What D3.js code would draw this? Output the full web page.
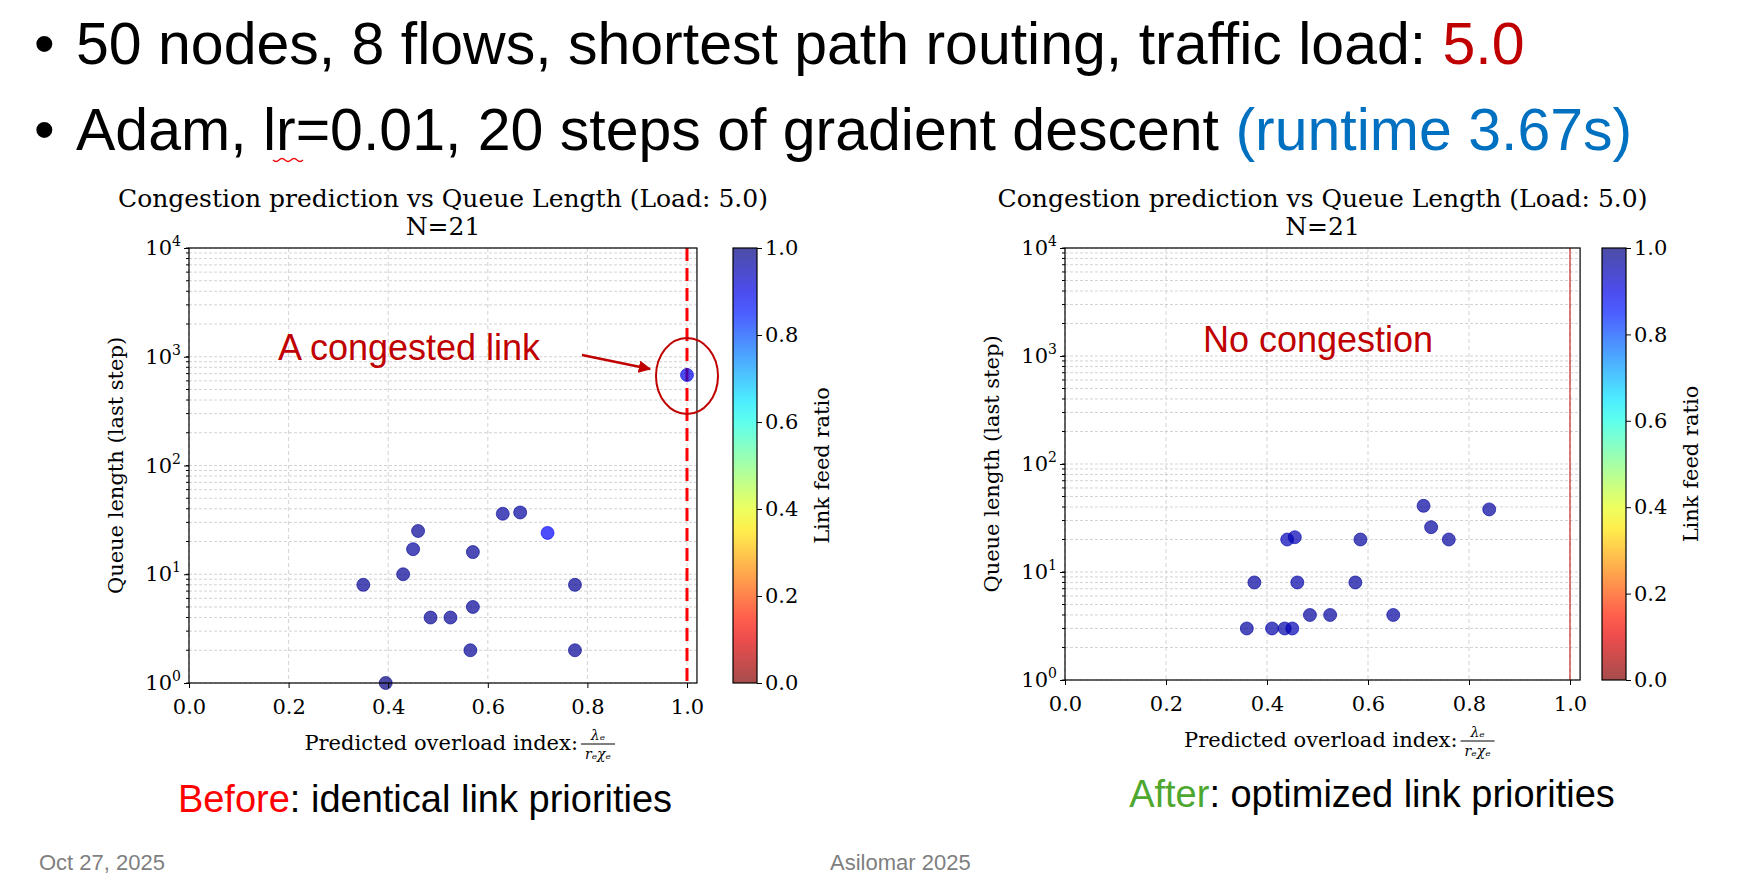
<!DOCTYPE html><html><head><meta charset="utf-8"><script src="https://cdn.jsdelivr.net/npm/d3@7"></script>
<style>body{margin:0;background:#fff}</style></head><body><svg id="s" width="1738" height="886"></svg>
<script>
const leftX=[0.35,0.395,0.43,0.45,0.46,0.485,0.525,0.565,0.57,0.57,0.63,0.665,0.72,0.775,0.775,1.0];
const leftY=[8,1,10,17,25,4,4,2,5,16,36,37,24,8,2,680];
const leftC=[0.98,1.0,0.98,0.97,0.98,0.98,0.98,0.98,0.98,0.98,0.97,0.97,0.88,0.98,0.98,0.9];
const rightX=[0.36,0.375,0.41,0.435,0.44,0.455,0.45,0.46,0.485,0.525,0.575,0.585,0.65,0.71,0.725,0.76,0.84];
const rightY=[3,8,3,3,20,21,3,8,4,4,8,20,4,41,26,20,38];
const rightC=[0.97,0.97,0.96,0.96,0.95,0.95,0.95,0.96,0.97,0.97,0.97,0.97,0.97,0.97,0.97,0.97,0.97];
const xTicks=[0,0.2,0.4,0.6,0.8,1.0];
const cbTicks=[0,0.2,0.4,0.6,0.8,1.0];
const svg=d3.select("#s");
const serif="'DejaVu Serif',serif", sans="'Liberation Sans',Arial,sans-serif";
function jetR(v0){const v=1-v0;const r=Math.min(4*v-1.5,-4*v+4.5),g=Math.min(4*v-0.5,-4*v+3.5),b=Math.min(4*v+0.5,-4*v+2.5);
 const c=x=>Math.round(255*Math.max(0,Math.min(1,x)));return `rgb(${c(r)},${c(g)},${c(b)})`;}
const h=svg.append("g").attr("font-family",sans).attr("font-size",59);
[[64,"50 nodes, 8 flows, shortest path routing, traffic load: ",[["5.0","#c00000"]]],[150,"Adam, lr=0.01, 20 steps of gradient descent ",[["(runtime 3.67s)","#0070c0"]]]].forEach(([y,t,ex])=>{
 h.append("text").attr("x",34).attr("y",y).text("•");
 const tx=h.append("text").attr("x",76).attr("y",y);tx.append("tspan").text(t);ex.forEach(e=>tx.append("tspan").attr("fill",e[1]).text(e[0]));});
svg.append("path").attr("d","M273,160 q3,3 6,0 t6,0 t6,0 t6,0 t6,0").attr("fill","none").attr("stroke","#e00").attr("stroke-width",1.2);
const defs=svg.append("defs");const lg=defs.append("linearGradient").attr("id","jet").attr("x1",0).attr("x2",0).attr("y1",1).attr("y2",0);
d3.range(0,1.001,0.05).forEach(v=>lg.append("stop").attr("offset",v).attr("stop-color",jetR(v)).attr("stop-opacity",0.7));
function panel(o){
 const g=svg.append("g");
 const x=d3.scaleLinear().domain([0,1.02]).range([o.x0,o.x0+(o.x1-o.x0)*1.02]);
 const y=d3.scaleLog().domain([1,1e4]).range([o.yb,o.yt]);
 const R=x(1.02);
 const minors=[];for(let e=0;e<4;e++)for(let k=1;k<10;k++)minors.push(k*10**e);minors.push(1e4);
 g.selectAll(".hg").data(minors).join("line").attr("x1",o.x0).attr("x2",R).attr("y1",d=>y(d)).attr("y2",d=>y(d)).attr("stroke","#c8c8c8").attr("stroke-dasharray","3,2").attr("stroke-width",0.8);
 g.selectAll(".vg").data(xTicks).join("line").attr("x1",d=>x(d)).attr("x2",d=>x(d)).attr("y1",o.yt).attr("y2",o.yb).attr("stroke","#c8c8c8").attr("stroke-dasharray","4,3").attr("stroke-width",0.8);
 if(o.redline) g.append("line").attr("x1",x(1)).attr("x2",x(1)).attr("y1",o.yt).attr("y2",o.yb).attr("stroke","#f00").attr("stroke-width",3).attr("stroke-dasharray","13,7");
 else g.append("line").attr("x1",x(1)).attr("x2",x(1)).attr("y1",o.yt).attr("y2",o.yb).attr("stroke","#b00").attr("stroke-width",1);
 g.selectAll("circle").data(o.X.map((v,i)=>[v,o.Y[i],o.C[i]])).join("circle").attr("cx",d=>x(d[0])).attr("cy",d=>y(d[1])).attr("r",6.5).attr("fill",d=>jetR(d[2])).attr("fill-opacity",0.7).attr("stroke",d=>jetR(d[2])).attr("stroke-width",0.6);
 g.append("rect").attr("x",o.x0).attr("y",o.yt).attr("width",R-o.x0).attr("height",o.yb-o.yt).attr("fill","none").attr("stroke","#000").attr("stroke-width",1.2);
 const xa=g.append("g").attr("transform",`translate(0,${o.yb})`).call(d3.axisBottom(x).tickValues(xTicks).tickFormat(d3.format(".1f")).tickSize(5));
 xa.select(".domain").remove();xa.selectAll("text").attr("font-family",serif).attr("font-size",21).attr("fill","#000").attr("dy","1.1em");
 const ya=g.append("g").attr("transform",`translate(${o.x0},0)`).call(d3.axisLeft(y).tickValues([1,10,100,1000,10000]).tickFormat("").tickSize(5));
 ya.select(".domain").remove();
 g.append("g").selectAll("line").data(minors).join("line").attr("x1",o.x0-3).attr("x2",o.x0).attr("y1",d=>y(d)).attr("y2",d=>y(d)).attr("stroke","#000");
 [0,1,2,3,4].forEach(e=>{const t=g.append("text").attr("x",o.x0-8).attr("y",y(10**e)+7).attr("text-anchor","end").attr("font-family",serif).attr("font-size",21);
  t.append("tspan").text("10");t.append("tspan").attr("dy",-9).attr("font-size",14).text(e);});
 const cx=(o.x0+R)/2;
 g.append("text").attr("x",cx).attr("y",207).attr("text-anchor","middle").attr("font-family",serif).attr("font-size",25).text("Congestion prediction vs Queue Length (Load: 5.0)");
 g.append("text").attr("x",cx).attr("y",235).attr("text-anchor","middle").attr("font-family",serif).attr("font-size",25).text("N=21");
 const fx=cx+155;
 g.append("text").attr("x",fx-20).attr("y",o.yb+67).attr("text-anchor","end").attr("font-family",serif).attr("font-size",21).text("Predicted overload index:");
 g.append("text").attr("x",fx).attr("y",o.yb+57).attr("text-anchor","middle").attr("font-family",serif).attr("font-style","italic").attr("font-size",14).text("λₑ");
 g.append("line").attr("x1",fx-17).attr("x2",fx+17).attr("y1",o.yb+61).attr("y2",o.yb+61).attr("stroke","#000");
 g.append("text").attr("x",fx).attr("y",o.yb+76).attr("text-anchor","middle").attr("font-family",serif).attr("font-style","italic").attr("font-size",14).text("rₑχₑ");
 g.append("text").attr("transform",`translate(${o.x0-66},${(o.yt+o.yb)/2}) rotate(-90)`).attr("text-anchor","middle").attr("font-family",serif).attr("font-size",21).text("Queue length (last step)");
 const cs=d3.scaleLinear().domain([0,1]).range([o.yb,o.yt]);
 g.append("rect").attr("x",o.cb).attr("y",o.yt).attr("width",24).attr("height",o.yb-o.yt).attr("fill","url(#jet)").attr("stroke","#000").attr("stroke-width",1.2);
 const ca=g.append("g").attr("transform",`translate(${o.cb+24},0)`).call(d3.axisRight(cs).tickValues(cbTicks).tickFormat(d3.format(".1f")).tickSize(5));
 ca.select(".domain").remove();ca.selectAll("text").attr("font-family",serif).attr("font-size",21).attr("fill","#000");
 g.append("text").attr("transform",`translate(${o.cb+96},${(o.yt+o.yb)/2}) rotate(-90)`).attr("text-anchor","middle").attr("font-family",serif).attr("font-size",21).text("Link feed ratio");
 return {x,y,g};
}
const L=panel({x0:189,x1:687,yt:248,yb:683,cb:733,X:leftX,Y:leftY,C:leftC,redline:true});
const Rr=panel({x0:1065,x1:1570,yt:248,yb:680,cb:1602,X:rightX,Y:rightY,C:rightC,redline:false});
svg.append("text").attr("x",409).attr("y",360).attr("text-anchor","middle").attr("font-family",sans).attr("font-size",36).attr("fill","#c00000").text("A congested link");
defs.append("marker").attr("id","ar").attr("viewBox","0 0 10 10").attr("refX",9).attr("refY",5).attr("markerWidth",5).attr("markerHeight",5).attr("orient","auto").append("path").attr("d","M0,0L10,5L0,10z").attr("fill","#c00000");
svg.append("line").attr("x1",582).attr("y1",355).attr("x2",650).attr("y2",369).attr("stroke","#c00000").attr("stroke-width",2.5).attr("marker-end","url(#ar)");
svg.append("ellipse").attr("cx",L.x(1)).attr("cy",376).attr("rx",31).attr("ry",38).attr("fill","none").attr("stroke","#c00000").attr("stroke-width",2);
svg.append("text").attr("x",1318).attr("y",352).attr("text-anchor","middle").attr("font-family",sans).attr("font-size",36).attr("fill","#c00000").text("No congestion");
const b1=svg.append("text").attr("x",425).attr("y",812).attr("text-anchor","middle").attr("font-family",sans).attr("font-size",38);
b1.append("tspan").attr("fill","#ff0000").text("Before");b1.append("tspan").text(": identical link priorities");
const b2=svg.append("text").attr("x",1372).attr("y",807).attr("text-anchor","middle").attr("font-family",sans).attr("font-size",38);
b2.append("tspan").attr("fill","#4ea72e").text("After");b2.append("tspan").text(": optimized link priorities");
svg.append("text").attr("x",39).attr("y",870).attr("font-family",sans).attr("font-size",22).attr("fill","#7f7f7f").text("Oct 27, 2025");
svg.append("text").attr("x",830).attr("y",870).attr("font-family",sans).attr("font-size",22).attr("fill","#7f7f7f").text("Asilomar 2025");
</script></body></html>
